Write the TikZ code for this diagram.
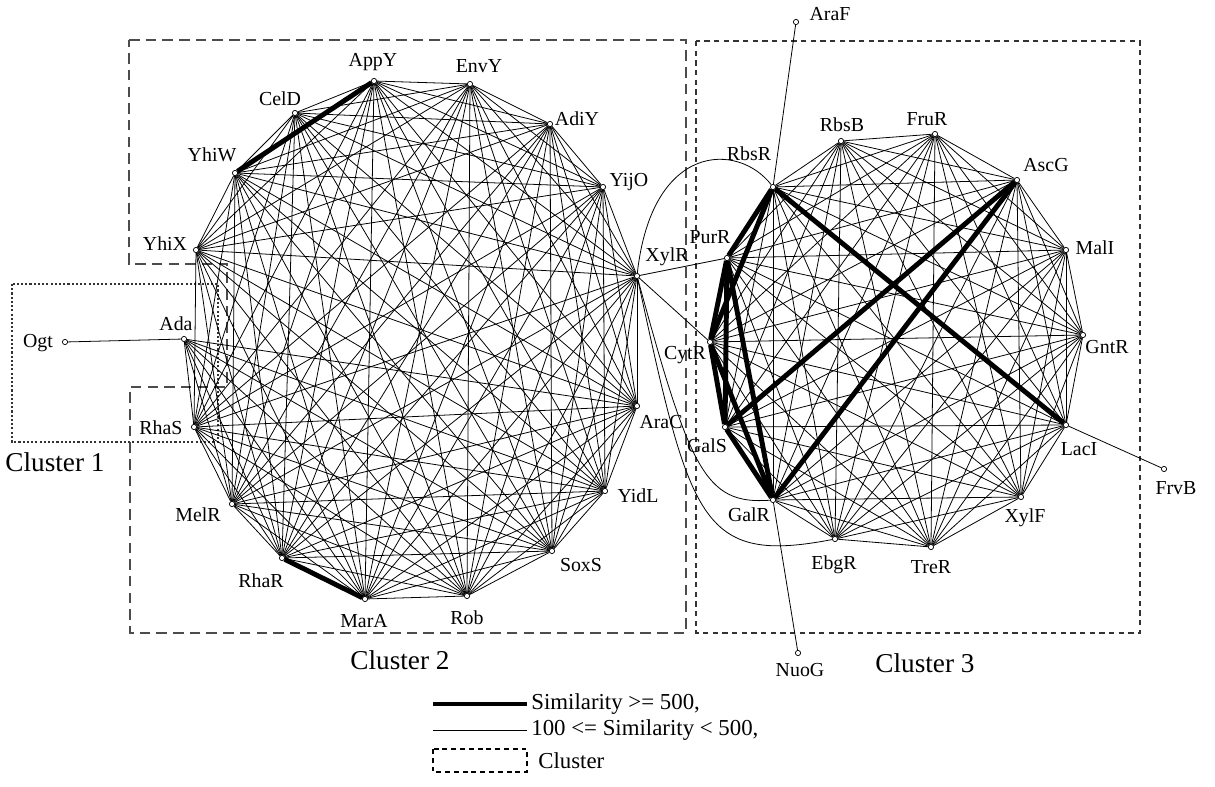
\documentclass[tikz,border=0pt]{standalone}
\usepackage{fontspec}
\setmainfont{Liberation Serif}
\usetikzlibrary{arrows.meta,calc,positioning}

\tikzset{
  gene/.style={circle,draw,fill=white,inner sep=0pt,minimum size=3pt,line width=0.4pt},
  lbl/.style={font=\fontsize{11.3}{13}\selectfont,inner sep=0pt},
  clbl/.style={font=\fontsize{15.5}{17}\selectfont,inner sep=0pt},
  keytext/.style={font=\fontsize{13}{15}\selectfont,inner sep=0pt,anchor=west},
  sim/.style={line width=0.45pt},
  strong/.style={line width=2.8pt},
}

\begin{document}
\begin{tikzpicture}[x=0.02cm,y=-0.02cm]
\useasboundingbox (0,0) rectangle (1215,787);

% cluster frames
\draw[black!70,line width=0.7pt,dash pattern=on 6pt off 3.5pt]
  (129,40) -- (686,40) -- (686,633) -- (130,633) -- (130,387) -- (227,387) -- (227,264) -- (129,264) -- cycle;
\draw[black!80,line width=0.6pt,dash pattern=on 3pt off 2.5pt] (696,41) rectangle (1140,633);
\draw[black!80,line width=0.6pt,dash pattern=on 1.2pt off 1.2pt] (12,284) rectangle (218,442);

% regulators: name / node / label
\foreach \n/\x/\y/\lx/\ly in {
  AppY/374/81/373/62, EnvY/470/84/479/66, AdiY/550/124/577/119,
  YijO/603/187/629/182, XylR/637/276/667/257, AraC/637/406/661/422,
  YidL/605/491/638/496, SoxS/552/551/581/565, Rob/467/596/467/618,
  MarA/365/599/364/621, RhaR/282/558/261/581, MelR/232/504/198/515,
  RhaS/194/427/161/428, Ada/184/339/176/324, YhiX/196/250/165/244,
  YhiW/235/173/212/155, CelD/295/113/280/99,
  RbsR/773/187/749/154, RbsB/841/141/842/125, FruR/935/134/927/119,
  AscG/1017/180/1046/165, MalI/1066/250/1095/248, GntR/1083/335/1107/347,
  LacI/1066/425/1079/449, XylF/1021/497/1025/518, TreR/931/547/931/567,
  EbgR/835/539/834/565, GalR/773/500/749/515, GalS/725/427/707/446,
  CytR/710/342/685/355, PurR/727/258/710/237,
  Ogt/65/342/38/343, AraF/796/22/830/14, FrvB/1164/469/1176/488,
  NuoG/798/653/800/670}{
  \node[gene] (\n) at (\x,\y) {};
  \node[lbl] (l\n) at (\lx,\ly) {\n};
}

% cluster 2
\foreach \a [count=\i] in {AppY,EnvY,AdiY,YijO,XylR,AraC,YidL,SoxS,Rob,MarA,RhaR,MelR,RhaS,YhiX,YhiW,CelD}{
  \foreach \b [count=\j] in {AppY,EnvY,AdiY,YijO,XylR,AraC,YidL,SoxS,Rob,MarA,RhaR,MelR,RhaS,YhiX,YhiW,CelD}{
    \ifnum\j>\i \draw[sim] (\a) -- (\b); \fi
  }
}
\foreach \b in {RhaS,MelR,RhaR,MarA,Rob,SoxS,YidL,AraC}
  \draw[sim] (Ada) -- (\b);

% cluster 3
\foreach \a [count=\i] in {RbsR,RbsB,FruR,AscG,MalI,GntR,LacI,XylF,TreR,EbgR,GalR,GalS,CytR,PurR}{
  \foreach \b [count=\j] in {RbsR,RbsB,FruR,AscG,MalI,GntR,LacI,XylF,TreR,EbgR,GalR,GalS,CytR,PurR}{
    \ifnum\j>\i \draw[sim] (\a) -- (\b); \fi
  }
}

% similarity >= 500
\draw[strong] (YhiW) -- (AppY);
\draw[strong] (RhaR) -- (MarA);
\foreach \a/\b in {RbsR/PurR,RbsR/CytR,RbsR/LacI,PurR/CytR,PurR/GalS,PurR/GalR,
                   CytR/GalS,CytR/GalR,GalS/GalR,AscG/GalS,AscG/GalR}
  \draw[strong] (\a) -- (\b);

% links between and out of clusters
\draw[sim] (XylR) -- (PurR);
\draw[sim] (XylR) -- (CytR);
\draw[sim] (XylR) .. controls (652,142) and (738,142) .. (RbsR);
\draw[sim] (XylR) .. controls (690,470) and (705,505) .. (GalR);
\draw[sim] (XylR) .. controls (690,520) and (700,565) .. (EbgR);
\draw[sim] (Ogt) -- (Ada);
\draw[sim] (AraF) -- (RbsR);
\draw[sim] (FrvB) -- (LacI);
\draw[sim] (NuoG) -- (GalR);

\node[clbl] (c1) at (55,462) {Cluster 1};
\node[clbl] (c2) at (400,660) {Cluster 2};
\node[clbl] (c3) at (925,663) {Cluster 3};

% legend
\coordinate (k1a) at (433,704);
\coordinate (k1b) at (527,704);
\coordinate (k2a) at (433,730);
\coordinate (k2b) at (527,730);
\draw[strong] (k1a) -- (k1b);
\draw[sim] (k2a) -- (k2b);
\draw[line width=0.8pt,dash pattern=on 2.8pt off 2.2pt] (433,749) rectangle (527,772);
\node[keytext] (t1) at (531,704) {Similarity >= 500,};
\node[keytext] (t2) at (531,730) {100 <= Similarity < 500,};
\node[keytext] (t3) at (538,761) {Cluster};
\end{tikzpicture}
\end{document}
